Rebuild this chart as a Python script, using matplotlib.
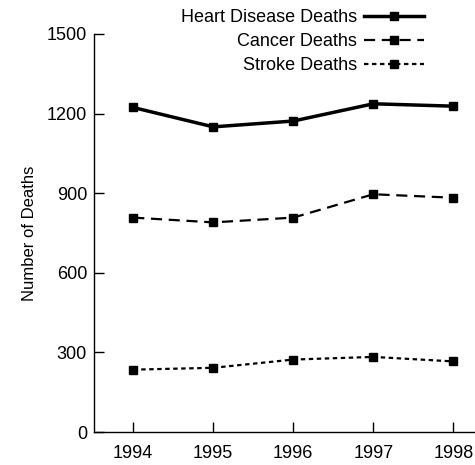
import matplotlib
matplotlib.use("Agg")
import matplotlib.pyplot as plt

years = [1994, 1995, 1996, 1997, 1998]
heart = [1223, 1150, 1172, 1237, 1228]
cancer = [808, 790, 808, 896, 883]
stroke = [235, 242, 273, 283, 266]
yticks = [0, 300, 600, 900, 1200, 1500]

plt.rcParams['font.family'] = ['Liberation Sans', 'DejaVu Sans']
plt.rcParams['font.size'] = 13

W, H = 475, 465
fig = plt.figure(figsize=(W / 100, H / 100), dpi=100)
ax = fig.add_axes([94 / W, 1 - 432 / H, (W - 94) / W + 0.01, (432 - 34) / H])

ax.plot(years, heart, color='black', lw=2.5, marker='s', ms=6.2,
        label='Heart Disease Deaths')
ax.plot(years, cancer, color='black', lw=1.6, marker='s', ms=6.2,
        dashes=(5, 3), label='Cancer Deaths')
ax.plot(years, stroke, color='black', lw=1.6, marker='s', ms=6.2,
        dashes=(2, 1.6), label='Stroke Deaths')

ax.set_xlim(1993.51, 1998.33)
ax.set_ylim(0, 1500)
ax.set_xticks(years)
ax.set_xticklabels([str(y) for y in years])
ax.set_yticks(yticks)
ax.tick_params(direction='in', length=7, width=1, colors='black')
ax.tick_params(axis='x', pad=9)
ax.tick_params(axis='y', pad=5)
for s in ['top', 'right']:
    ax.spines[s].set_visible(False)
for s in ['left', 'bottom']:
    ax.spines[s].set_linewidth(1)
ax.set_ylabel('Number of Deaths', fontsize=12)
ax.yaxis.set_label_coords(-0.147, 0.5)

fig.legend(loc='upper right', bbox_to_anchor=(424 / W, 1 - 9 / H),
           frameon=False, markerfirst=False, handlelength=3.3,
           handletextpad=0.4, labelspacing=0.4, borderpad=0,
           borderaxespad=0)

fig.savefig('out.png', dpi=100)
